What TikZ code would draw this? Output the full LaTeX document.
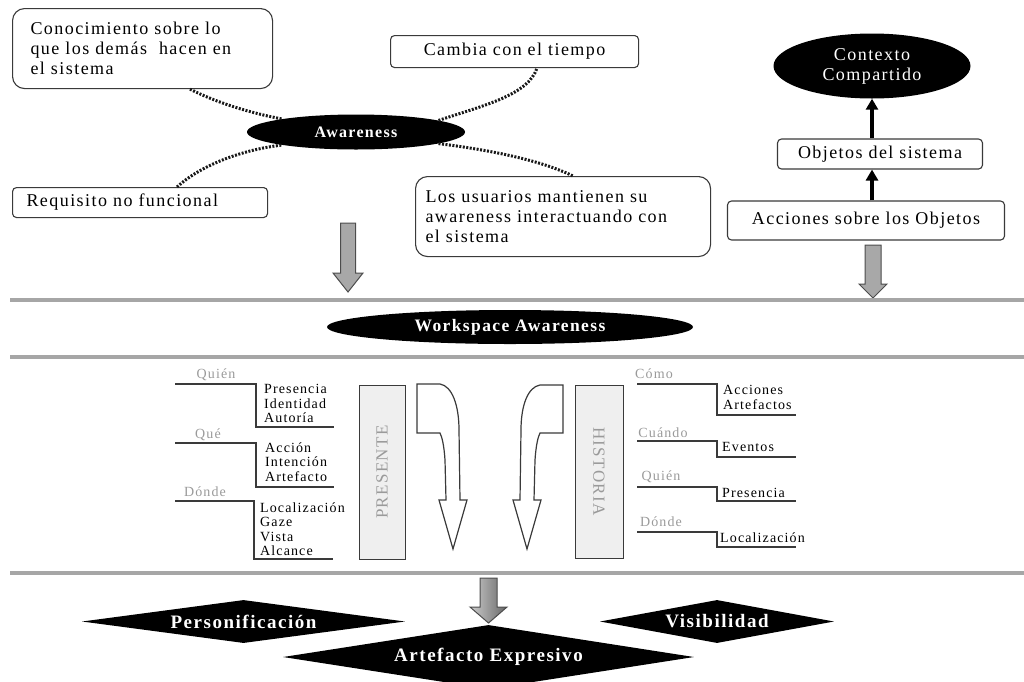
\documentclass[tikz,border=0pt]{standalone}
\usepackage{fontspec}
\setmainfont{Liberation Serif}[LetterSpace=8]
\usetikzlibrary{shapes.geometric,arrows.meta,calc}
\definecolor{boxline}{HTML}{3A3A3A}
\definecolor{sepline}{HTML}{A6A6A6}
\definecolor{lbl}{HTML}{9A9A9A}
\definecolor{panel}{HTML}{EFEFEF}
\definecolor{arrowgray}{HTML}{A8A8A8}
\begin{document}
\begin{tikzpicture}[x=1pt,y=-1pt,
  txt/.style={font=\fontsize{18}{20}\selectfont},
  rbox/.style={draw=boxline, line width=1.1pt, fill=white, inner ysep=0pt, txt},
  blackell/.style={ellipse, fill=black, text=white, inner sep=0pt},
  dots/.style={draw=black!90, line width=3pt, dash pattern=on 2pt off 1.5pt},
  blk/.style={line width=3.5pt, -{Triangle[width=12pt,length=11pt]}},
  sepl/.style={draw=sepline, line width=4.5pt},
  garrow/.style={draw=black!70, line width=1pt, fill=arrowgray},
  bracket/.style={draw=boxline, line width=1.1pt},
  lab/.style={font=\fontsize{14}{14.5}\selectfont, inner sep=0pt, align=left},
  glab/.style={lab, text=lbl},
  panelbox/.style={draw=boxline, line width=1pt, fill=panel, inner sep=0pt, text=lbl, font=\fontsize{17}{17}\selectfont},
  bentarrow/.style={draw=boxline, line width=1.2pt, fill=white},
  dia/.style={diamond, fill=black, text=white, inner sep=0pt, font=\bfseries\fontsize{19}{21}\selectfont}
]
\useasboundingbox (0,0) rectangle (1024,681);

% ---- top part ----
\node[rbox, rounded corners=12pt, anchor=north west, minimum height=80, text width=224, inner xsep=18, align=left] (know) at (12,8) {Conocimiento sobre lo\\que los demás~ hacen en\\el sistema};
\node[rbox, rounded corners=4pt, anchor=north west, minimum width=248, minimum height=32] (cambia) at (390,35) {Cambia con el tiempo};
\node[rbox, rounded corners=4pt, anchor=north west, minimum height=30, text width=227, inner xsep=14, align=left] (req) at (12,187) {Requisito no funcional};
\node[rbox, rounded corners=12pt, anchor=north west, minimum height=80, text width=275, inner xsep=10, align=left] (users) at (415,176) {Los usuarios mantienen su\\awareness interactuando con\\el sistema};
\node[blackell, minimum width=218, minimum height=35, font=\bfseries\fontsize{16}{18}\selectfont] (aw) at (356,132) {Awareness};

\draw[dots] ($(know.south west)+(178,0)$) .. controls (215,102) and (250,113) .. (aw.170);
\draw[dots] ($(req.north west)+(165,0)$) .. controls (200,166) and (240,150) .. (aw.190);
\draw[dots] (aw.8) .. controls (485,105) and (528,95) .. ($(cambia.south west)+(147,0)$);
\draw[dots] (aw.-8) .. controls (490,150) and (540,160) .. ($(users.north west)+(158,0)$);

\node[blackell, minimum width=197, minimum height=65, align=center, font=\fontsize{18}{20}\selectfont] (ctx) at (872,66) {Contexto\\Compartido};
\node[rbox, rounded corners=4pt, minimum width=205, minimum height=30] (obj) at (880,154) {Objetos del sistema};
\node[rbox, rounded corners=4pt, minimum width=277, minimum height=39] (acc) at (866,220.5) {Acciones sobre los Objetos};
\draw[blk] (acc.north -| ctx.south) -- (obj.south -| ctx.south);
\draw[blk] (obj.north -| ctx.south) -- (ctx.south);

% gray block arrows
\filldraw[garrow] (340.5,223) -- (355.5,223) -- (355.5,273) -- (363,273) -- (348,292) -- (333,273) -- (340.5,273) -- cycle;
\filldraw[garrow] (865,245) -- (881,245) -- (881,284) -- (887,284) -- (873,298) -- (859,284) -- (865,284) -- cycle;

% separators
\draw[sepl] (10,300) -- (1024,300);
\draw[sepl] (10,357) -- (1024,357);
\draw[sepl] (10,573) -- (1024,573);

\node[blackell, minimum width=366, minimum height=34, font=\bfseries\fontsize{17.5}{19}\selectfont] (ws) at (510,327) {Workspace Awareness};

% ---- middle part: left ----
\node[glab] (quien1) at (216,375) {Quién};
\draw[bracket] (175,384) -- (256,384) -- (256,427) -- (334,427);
\node[lab, anchor=west] (g1) at (264,403.5) {Presencia\\Identidad\\Autoría};
\node[glab] (que) at (208,435) {Qué};
\draw[bracket] (175,443) -- (256,443) -- (256,487) -- (334,487);
\node[lab, anchor=west] (g2) at (265,462) {Acción\\Intención\\Artefacto};
\node[glab] (donde1) at (205,492) {Dónde};
\draw[bracket] (175,501) -- (254,501) -- (254,559) -- (333,559);
\node[lab, anchor=west] (g3) at (260,529) {Localización\\Gaze\\Vista\\Alcance};

\node[panelbox, rotate=90, minimum width=174, minimum height=46] (pres) at (382,472) {PRESENTE};
\node[panelbox, rotate=-90, minimum width=173, minimum height=48] (hist) at (599,471.5) {HISTORIA};

% bent arrows
\filldraw[bentarrow] (417,384) -- (440,384) .. controls (452,386) and (459,405) .. (459,430) -- (460,500) -- (467,500) -- (453,549) -- (439,500) -- (446,500) -- (445,460) .. controls (444,445) and (442,437) .. (440,433) -- (417,433) -- cycle;
\filldraw[bentarrow] (563,385) -- (540,385) .. controls (528,387) and (521,405) .. (521,430) -- (520,500) -- (513,500) -- (527,549) -- (541,500) -- (534,500) -- (535,460) .. controls (536,445) and (538,437) .. (540,433) -- (563,433) -- cycle;

% ---- middle part: right ----
\node[glab] (como) at (654,374) {Cómo};
\draw[bracket] (637,384) -- (717,384) -- (717,415) -- (796,415);
\node[lab, anchor=west] (h1) at (723,397.5) {Acciones\\Artefactos};
\node[glab] (cuando) at (663,433) {Cuándo};
\draw[bracket] (637,441) -- (717,441) -- (717,457) -- (796,457);
\node[lab, anchor=west] (h2) at (722,447) {Eventos};
\node[glab] (quien2) at (661,477) {Quién};
\draw[bracket] (637,487) -- (717,487) -- (717,501) -- (796,501);
\node[lab, anchor=west] (h3) at (722,493) {Presencia};
\node[glab] (donde2) at (661,522) {Dónde};
\draw[bracket] (637,532) -- (717,532) -- (717,547) -- (796,547);
\node[lab, anchor=west] (h4) at (720,538) {Localización};

% ---- bottom ----
\node[dia, aspect=7.5, minimum width=323, minimum height=43] (pers) at (243.5,621.5) {Personificación};
\node[dia, aspect=6.4, minimum width=411, minimum height=64] (art) at (488.5,657) {Artefacto Expresivo};
\node[dia, aspect=5.4, minimum width=234, minimum height=43] (vis) at (717,621.5) {Visibilidad};
\draw[draw=black!70, line width=1pt, left color=black!20, right color=black!60] (480,578) -- (497,578) -- (497,607) -- (507,607) -- (488.5,623) -- (470,607) -- (480,607) -- cycle;
\end{tikzpicture}
\end{document}
